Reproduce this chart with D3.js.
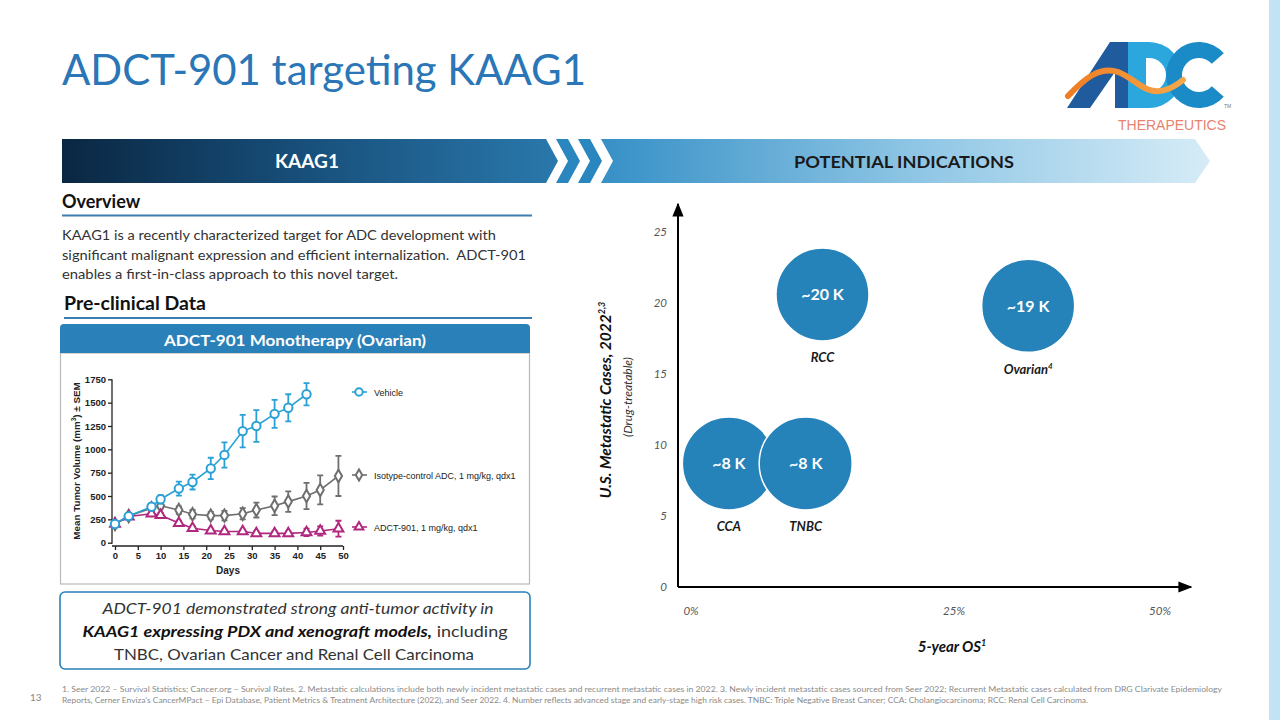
<!DOCTYPE html>
<html><head><meta charset="utf-8">
<script src="https://cdn.jsdelivr.net/npm/d3@7"></script>
<style>
html,body{margin:0;padding:0;background:#fff;}
svg{display:block;}
</style></head>
<body>
<script>
// ---------- DATA ----------
// Pre-clinical tumor growth (mean tumor volume mm3 ± SEM)
const vehicleDays = [0,3,8,10,14,17,21,24,28,31,35,38,42];
const vehicleMean = [200,285,385,465,580,650,795,940,1195,1250,1380,1445,1590];
const vehicleSem  = [20,20,35,45,75,80,115,135,175,170,150,145,120];
const isoDays = [0,3,8,10,14,17,21,24,28,31,35,38,42,45,49];
const isoMean = [200,285,370,395,350,305,290,290,310,350,395,440,500,565,715];
const isoSem  = [20,20,30,30,40,45,40,50,60,80,100,110,140,155,215];
const adcDays = [0,3,8,10,14,17,21,24,28,31,35,38,42,45,49];
const adcMean = [200,280,310,295,210,155,130,120,120,100,100,100,110,125,150];
const adcSem  = [20,20,25,25,25,20,20,20,20,20,20,20,40,50,85];
const seriesNames = ["Vehicle","Isotype-control ADC, 1 mg/kg, qdx1","ADCT-901, 1 mg/kg, qdx1"];
const growthYTicks = [0,250,500,750,1000,1250,1500,1750];
const growthXTicks = [0,5,10,15,20,25,30,35,40,45,50];

// Potential indications bubble chart
const indications   = ["CCA","TNBC","RCC","Ovarian"];
const indicationSup = ["","","","4"];
const fiveYearOS    = [3.6,10.9,12.5,34.0];     // %
const metCases      = [8.7,8.7,20.6,19.8];      // thousands (bubble position)
const caseLabels    = ["~8 K","~8 K","~20 K","~19 K"];
const bubbleYTicks  = [0,5,10,15,20,25];
const bubbleXTicks  = [0,25,50];
const bubbleXTickLabels = ["0%","25%","50%"];

// ---------- SETUP ----------
const W=1280,H=720;
const F="Lato, 'Open Sans', sans-serif";
const A="'Liberation Sans', Arial, sans-serif";
const svg=d3.select("body").append("svg").attr("width",W).attr("height",H);
const defs=svg.append("defs");
function lg(id,stops){const g=defs.append("linearGradient").attr("id",id).attr("x1","0").attr("x2","1").attr("y1","0").attr("y2","0");
 stops.forEach(s=>g.append("stop").attr("offset",s[0]).attr("stop-color",s[1]));}
lg("darkGrad",[[0,"#0a2742"],[0.5,"#18507c"],[1,"#2a78ac"]]);
lg("lightGrad",[[0,"#3690c6"],[0.5,"#8cc4e4"],[1,"#d6ecf7"]]);
lg("swoosh",[[0,"#f07c22"],[1,"#f6a84a"]]);

// right edge bar
svg.append("rect").attr("x",1269).attr("y",0).attr("width",11).attr("height",H).attr("fill","#c2e3f3");

// Title
svg.append("text").attr("x",62).attr("y",85).attr("font-family",F).attr("font-size",42)
 .attr("fill","#2a76b6").attr("textLength",524).attr("lengthAdjust","spacingAndGlyphs").text("ADCT-901 targeting KAAG1");

// Logo
const logo=svg.append("g");
logo.append("path").attr("d","M1067,108 L1110,42 L1133,42 L1133,108 L1115,108 L1115,72 L1090,108 Z").attr("fill","#1f5b9d");
logo.append("path").attr("fill-rule","evenodd").attr("fill","#2ba7de")
 .attr("d","M1128,42 H1149 A33,33 0 0 1 1149,108 H1128 Z M1146,58 V92 H1149 A17,17 0 0 0 1149,58 Z");
logo.append("path").attr("fill","#1b8bc7").attr("fill-rule","evenodd")
 .attr("d",(()=>{const cx=1199,cy=75,R=33,r=17,a0=-0.72,a1=0.72;
   const p=(rad,a)=>[cx+rad*Math.cos(a),cy+rad*Math.sin(a)];
   const o0=p(R,a0),o1=p(R,a1),i0=p(r,a0),i1=p(r,a1);
   return `M${o0} A${R},${R} 0 1 0 ${o1} L${i1} A${r},${r} 0 1 1 ${i0} Z`;})());
logo.append("path").attr("d","M1068,96 C1085,78 1100,66 1118,72 C1135,78 1145,96 1165,90 C1172,88 1178,84 1183,80")
 .attr("fill","none").attr("stroke","url(#swoosh)").attr("stroke-width",6).attr("stroke-linecap","round");
logo.append("text").attr("x",1224).attr("y",108).attr("font-family",A).attr("font-size",5).attr("fill","#777").text("TM");
logo.append("text").attr("x",1118).attr("y",130).attr("font-family",A).attr("font-size",14).attr("fill","#e9826f")
 .attr("textLength",108).attr("lengthAdjust","spacingAndGlyphs").text("THERAPEUTICS");

// Banner
svg.append("polygon").attr("points","62,139 546,139 558,161 546,183 62,183").attr("fill","url(#darkGrad)");
[0,22].forEach(o=>{
 svg.append("polygon").attr("points",`${556+o},139 ${568+o},139 ${580+o},161 ${568+o},183 ${556+o},183 ${568+o},161`).attr("fill","#2a86bf");
});
svg.append("polygon").attr("points","601,139 1195,139 1210,161 1195,183 601,183 613,161").attr("fill","url(#lightGrad)");
svg.append("text").attr("x",307).attr("y",168).attr("text-anchor","middle").attr("font-family",F).attr("font-weight","bold")
 .attr("font-size",19).attr("fill","#fff").text("KAAG1");
svg.append("text").attr("x",904).attr("y",168).attr("text-anchor","middle").attr("font-family",F).attr("font-weight","bold")
 .attr("font-size",17).attr("fill","#1a1a1a").attr("textLength",220).attr("lengthAdjust","spacingAndGlyphs").text("POTENTIAL INDICATIONS");

// Overview section
svg.append("text").attr("x",62).attr("y",208).attr("font-family",F).attr("font-weight","bold").attr("font-size",18).attr("fill","#111").text("Overview");
svg.append("line").attr("x1",62).attr("x2",532).attr("y1",215.5).attr("y2",215.5).attr("stroke","#3b7fb2").attr("stroke-width",2);
const bodyLines=[["KAAG1 is a recently characterized target for ADC development with",434],
 ["significant malignant expression and efficient internalization.  ADCT-901",464],
 ["enables a first-in-class approach to this novel target.",336]];
bodyLines.forEach((l,i)=>svg.append("text").attr("x",62).attr("y",240+i*19.5).attr("font-family",F).attr("font-size",13.5)
 .attr("fill","#333").attr("textLength",l[1]).attr("lengthAdjust","spacingAndGlyphs").attr("xml:space","preserve").text(l[0]));
svg.append("text").attr("x",64).attr("y",310).attr("font-family",F).attr("font-weight","bold").attr("font-size",18).attr("fill","#111")
 .attr("textLength",142).attr("lengthAdjust","spacingAndGlyphs").text("Pre-clinical Data");
svg.append("line").attr("x1",64).attr("x2",532).attr("y1",318).attr("y2",318).attr("stroke","#3b7fb2").attr("stroke-width",2);

// chart panel
svg.append("rect").attr("x",60.5).attr("y",353).attr("width",469).attr("height",231).attr("fill","#fff").attr("stroke","#b9b9b9").attr("stroke-width",1.2);
svg.append("path").attr("d","M60,353 V328 Q60,324 64,324 H526 Q530,324 530,328 V353 Z").attr("fill","#2a80b9");
svg.append("text").attr("x",295).attr("y",346).attr("text-anchor","middle").attr("font-family",F).attr("font-weight","bold")
 .attr("font-size",16).attr("fill","#fff").attr("textLength",262).attr("lengthAdjust","spacingAndGlyphs").text("ADCT-901 Monotherapy (Ovarian)");

// ---------- Tumor growth chart ----------
const xS=d3.scaleLinear().domain([0,50]).range([115,343]);
const yS=d3.scaleLinear().domain([0,1750]).range([542.7,379.3]);
const gc=svg.append("g");
const axX=112, axY=546;
gc.append("line").attr("x1",axX).attr("x2",axX).attr("y1",yS(1750)).attr("y2",yS(0)+1).attr("stroke","#222").attr("stroke-width",1.3);
gc.append("line").attr("x1",axX).attr("x2",xS(50)).attr("y1",axY).attr("y2",axY).attr("stroke","#222").attr("stroke-width",1.3);
const yAx=gc.append("g").attr("transform",`translate(${axX},0)`).call(d3.axisLeft(yS).tickValues(growthYTicks).tickFormat(d3.format("d")).tickSize(4).tickSizeOuter(0).tickPadding(2));
const xAx=gc.append("g").attr("transform",`translate(0,${axY})`).call(d3.axisBottom(xS).tickValues(growthXTicks).tickFormat(d3.format("d")).tickSize(4).tickSizeOuter(0).tickPadding(2));
[yAx,xAx].forEach(a=>{a.select(".domain").remove();a.selectAll("line").attr("stroke","#222").attr("stroke-width",1.3);
 a.selectAll("text").attr("font-family",A).attr("font-size",9.5).attr("font-weight","bold").attr("fill","#222");});
gc.append("text").attr("x",xS(25)-1).attr("y",574).attr("text-anchor","middle").attr("font-family",A).attr("font-weight","bold").attr("font-size",10).attr("fill","#222").text("Days");
const yt=gc.append("text").attr("transform","translate(80,461) rotate(-90)").attr("text-anchor","middle").attr("font-family",A).attr("font-weight","bold").attr("font-size",9.8).attr("fill","#222");
yt.append("tspan").text("Mean Tumor Volume (mm");
yt.append("tspan").attr("font-size",6.5).attr("dy",-4).text("3");
yt.append("tspan").attr("dy",4).text(") ± SEM");

const series=[
 {name:seriesNames[0],days:vehicleDays,mean:vehicleMean,sem:vehicleSem,color:"#2aa1d6",shape:d3.symbolCircle,size:55,ly:392},
 {name:seriesNames[1],days:isoDays,mean:isoMean,sem:isoSem,color:"#6f6f6f",shape:d3.symbolDiamond,size:45,ly:475},
 {name:seriesNames[2],days:adcDays,mean:adcMean,sem:adcSem,color:"#b0277f",shape:d3.symbolTriangle,size:42,ly:527}
];
const line=d3.line().x(d=>xS(d[0])).y(d=>yS(d[1]));
// draw in order: iso, adc, vehicle on top
[1,2,0].forEach(k=>{
 const s=series[k]; const pts=s.days.map((d,i)=>[d,s.mean[i],s.sem[i]]);
 const g=gc.append("g");
 g.selectAll(".eb").data(pts).join("path").attr("fill","none").attr("stroke",s.color).attr("stroke-width",1.8)
  .attr("d",d=>{const x=xS(d[0]),y1=yS(d[1]+d[2]),y0=yS(d[1]-d[2]);return `M${x},${y1}V${y0}M${x-3},${y1}H${x+3}M${x-3},${y0}H${x+3}`;});
 g.append("path").datum(pts).attr("fill","none").attr("stroke",s.color).attr("stroke-width",1.6).attr("d",line);
 g.selectAll(".m").data(pts).join("path").attr("transform",d=>`translate(${xS(d[0])},${yS(d[1])})`)
  .attr("d",d3.symbol().type(s.shape).size(s.size)).attr("fill","#fff").attr("stroke",s.color).attr("stroke-width",2);
 // legend
 gc.append("line").attr("x1",352).attr("x2",367).attr("y1",s.ly).attr("y2",s.ly).attr("stroke",s.color).attr("stroke-width",1.6);
 gc.append("path").attr("transform",`translate(359,${s.ly})`).attr("d",d3.symbol().type(s.shape).size(s.size*0.8)).attr("fill","#fff").attr("stroke",s.color).attr("stroke-width",2);
 gc.append("text").attr("x",374).attr("y",s.ly+3.5).attr("font-family",A).attr("font-size",9).attr("fill","#222").text(s.name);
});

// callout
svg.append("rect").attr("x",60).attr("y",592).attr("width",470).attr("height",77).attr("rx",5).attr("fill","#fff").attr("stroke","#2a80b9").attr("stroke-width",1.6);
svg.append("text").attr("x",298).attr("y",614).attr("text-anchor","middle").attr("font-family",F).attr("font-style","italic").attr("font-size",16).attr("fill","#333")
 .attr("textLength",391).attr("lengthAdjust","spacingAndGlyphs").text("ADCT-901 demonstrated strong anti-tumor activity in");
const c2=svg.append("text").attr("x",295).attr("y",637).attr("text-anchor","middle").attr("font-family",F).attr("font-size",16).attr("fill","#333")
 .attr("textLength",425).attr("lengthAdjust","spacingAndGlyphs").attr("xml:space","preserve");
c2.append("tspan").attr("font-weight","bold").attr("font-style","italic").attr("fill","#111").text("KAAG1 expressing PDX and xenograft models,");
c2.append("tspan").text(" including");
svg.append("text").attr("x",294).attr("y",660).attr("text-anchor","middle").attr("font-family",F).attr("font-size",16).attr("fill","#333")
 .attr("textLength",360).attr("lengthAdjust","spacingAndGlyphs").text("TNBC, Ovarian Cancer and Renal Cell Carcinoma");

// ---------- Bubble chart ----------
const xB=d3.scaleLinear().domain([0,25,50]).range([691,954,1160]);
const yB=d3.scaleLinear().domain([0,25]).range([587,232]);
const originX=xB(0)-13, originY=yB(0);
const gb=svg.append("g");
defs.append("marker").attr("id","arr").attr("viewBox","0 0 10 10").attr("refX",9).attr("refY",5).attr("markerWidth",7).attr("markerHeight",7)
 .attr("orient","auto").append("path").attr("d","M0,1 L10,5 L0,9 Z").attr("fill","#000");
gb.append("line").attr("x1",originX).attr("x2",originX).attr("y1",originY).attr("y2",204).attr("stroke","#000").attr("stroke-width",2).attr("marker-end","url(#arr)");
gb.append("line").attr("x1",originX).attr("x2",1191).attr("y1",originY).attr("y2",originY).attr("stroke","#000").attr("stroke-width",2).attr("marker-end","url(#arr)");
gb.selectAll(".yt").data(bubbleYTicks).join("text").attr("x",667).attr("y",d=>yB(d)+4).attr("text-anchor","end")
 .attr("font-family",F).attr("font-style","italic").attr("font-size",11.5).attr("fill","#555").text(d=>d);
gb.selectAll(".xt").data(bubbleXTicks).join("text").attr("x",d=>xB(d)).attr("y",615).attr("text-anchor","middle")
 .attr("font-family",F).attr("font-style","italic").attr("font-size",11.5).attr("fill","#555").text((d,i)=>bubbleXTickLabels[i]);
const R=46.5;
const bd=indications.map((n,i)=>({n,sup:indicationSup[i],x:fiveYearOS[i],y:metCases[i],lab:caseLabels[i]}));
const bg=gb.selectAll(".b").data(bd).join("g");
bg.append("circle").attr("cx",d=>xB(d.x)).attr("cy",d=>yB(d.y)).attr("r",R).attr("fill","#2683ba").attr("stroke","#fff").attr("stroke-width",1.5);
bg.append("text").attr("x",d=>xB(d.x)).attr("y",d=>yB(d.y)+6).attr("text-anchor","middle").attr("font-family",F).attr("font-weight","bold")
 .attr("font-size",16).attr("fill","#fff").text(d=>d.lab);
const bl=bg.append("text").attr("x",d=>xB(d.x)).attr("y",d=>yB(d.y)+68).attr("text-anchor","middle").attr("font-family",F).attr("font-weight","bold")
 .attr("font-style","italic").attr("font-size",13).attr("fill","#1a1a1a");
bl.append("tspan").text(d=>d.n);
bl.filter(d=>d.sup).append("tspan").attr("font-size",8).attr("dy",-5).text(d=>d.sup);

const yTitle=gb.append("text").attr("transform","translate(611,400) rotate(-90)").attr("text-anchor","middle").attr("font-family",F)
 .attr("font-weight","bold").attr("font-style","italic").attr("font-size",15.5).attr("fill","#111");
yTitle.append("tspan").text("U.S. Metastatic Cases, 2022");
yTitle.append("tspan").attr("font-size",9).attr("dy",-6).text("2,3");
gb.append("text").attr("transform","translate(632,397) rotate(-90)").attr("text-anchor","middle").attr("font-family",F)
 .attr("font-style","italic").attr("font-size",12).attr("fill","#333").text("(Drug-treatable)");
const xTitle=gb.append("text").attr("x",952).attr("y",652).attr("text-anchor","middle").attr("font-family",F)
 .attr("font-weight","bold").attr("font-style","italic").attr("font-size",15).attr("fill","#111");
xTitle.append("tspan").text("5-year OS");
xTitle.append("tspan").attr("font-size",9).attr("dy",-6).text("1");

// Footer
svg.append("text").attr("x",30).attr("y",701).attr("font-family",F).attr("font-size",10).attr("fill","#888").text("13");
const foot=["1. Seer 2022 – Survival Statistics; Cancer.org – Survival Rates. 2. Metastatic calculations include both newly incident metastatic cases and recurrent metastatic cases in 2022. 3. Newly incident metastatic cases sourced from Seer 2022; Recurrent Metastatic cases calculated from DRG Clarivate Epidemiology",
 "Reports, Cerner Enviza's CancerMPact – Epi Database, Patient Metrics & Treatment Architecture (2022), and Seer 2022. 4. Number reflects advanced stage and early-stage high risk cases. TNBC: Triple Negative Breast Cancer; CCA: Cholangiocarcinoma; RCC: Renal Cell Carcinoma."];
const footW=[1160,1026];
foot.forEach((t,i)=>svg.append("text").attr("x",62).attr("y",692+i*10.5).attr("font-family",F).attr("font-size",7.3).attr("fill","#8a8a8a")
 .attr("textLength",footW[i]).attr("lengthAdjust","spacingAndGlyphs").text(t));
</script>
</body></html>
